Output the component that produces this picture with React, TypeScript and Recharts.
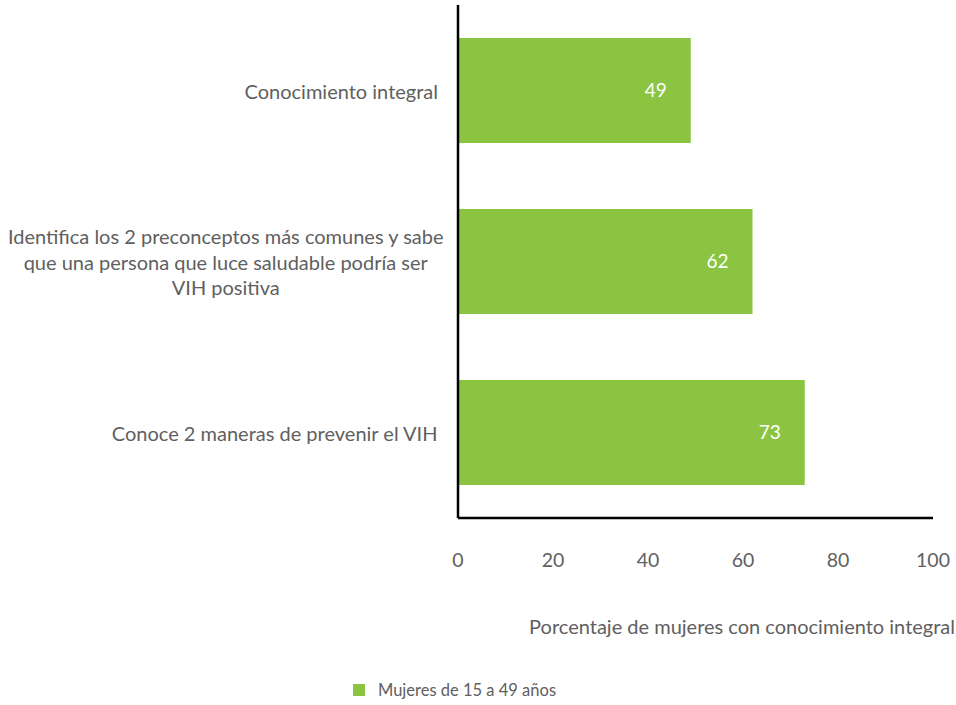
import { BarChart, Bar, XAxis, YAxis, LabelList, Legend } from 'recharts'

const categories = [
  'Conocimiento integral',
  'Identifica los 2 preconceptos más comunes y sabe que una persona que luce saludable podría ser VIH positiva',
  'Conoce 2 maneras de prevenir el VIH',
]
const categoryLines = [
  ['Conocimiento integral'],
  ['Identifica los 2 preconceptos más comunes y sabe', 'que una persona que luce saludable podría ser', 'VIH positiva'],
  ['Conoce 2 maneras de prevenir el VIH'],
]
const values = [49, 62, 73]
const xTicks = [0, 20, 40, 60, 80, 100]
const seriesName = 'Mujeres de 15 a 49 años'
const axisTitle = 'Porcentaje de mujeres con conocimiento integral'

const GREEN = '#8AC440'
const TEXT = '#606060'
const FONT = 'Lato, "Open Sans", sans-serif'

const data = categories.map((c, i) => ({ name: c, value: values[i] }))

let ctx: CanvasRenderingContext2D | null = null
function measure(text: string, size: number) {
  if (!ctx) ctx = document.createElement('canvas').getContext('2d')
  if (!ctx) return text.length * size * 0.5
  ctx.font = `${size}px Lato`
  return ctx.measureText(text).width
}

function CategoryTick(props: any) {
  const { x, y, payload } = props
  const idx = categories.indexOf(payload.value)
  const lines = categoryLines[idx] || [payload.value]
  const size = 20
  const blockW = Math.max(...lines.map((l) => measure(l, size)))
  const right = lines.length > 1 ? x - 6 : x - 12
  const cx = Math.max(right - blockW / 2, blockW / 2 + 2)
  const lh = 25.5
  return (
    <g>
      {lines.map((l, i) => (
        <text
          key={i}
          x={cx}
          y={y + (i - (lines.length - 1) / 2) * lh}
          textAnchor="middle"
          dominantBaseline="central"
          fill={TEXT}
          fontSize={size}
          fontFamily={FONT}
        >
          {l}
        </text>
      ))}
    </g>
  )
}

function ValueTick(props: any) {
  const { x, y, payload } = props
  return (
    <text x={x} y={y + 33} textAnchor="middle" dominantBaseline="central" fill={TEXT} fontSize={19.5} fontFamily={FONT}>
      {payload.value}
    </text>
  )
}

function AxisTitle(props: any) {
  const { viewBox } = props
  return (
    <text
      x={viewBox.x + viewBox.width + 22}
      y={viewBox.y + 108}
      textAnchor="end"
      dominantBaseline="central"
      fill={TEXT}
      fontSize={20}
      fontFamily={FONT}
    >
      {axisTitle}
    </text>
  )
}

function LegendBox() {
  return (
    <div style={{ display: 'flex', alignItems: 'center', fontFamily: FONT, fontSize: 16.5, color: TEXT }}>
      <span style={{ width: 12, height: 12, background: GREEN, display: 'inline-block', marginRight: 13 }} />
      {seriesName}
    </div>
  )
}

export default function App() {
  return (
    <div style={{ position: 'absolute', left: 0, top: 0, background: '#fff' }}>
      <BarChart
        width={956}
        height={705}
        data={data}
        layout="vertical"
        margin={{ top: 5, right: 23, bottom: 127, left: 0 }}
        barCategoryGap={33}
      >
        <XAxis
          type="number"
          domain={[0, 100]}
          ticks={xTicks}
          tickLine={false}
          axisLine={{ stroke: '#000', strokeWidth: 2.5 }}
          tick={<ValueTick />}
          height={40}
          interval={0}
          label={<AxisTitle />}
        />
        <YAxis
          type="category"
          dataKey="name"
          width={458}
          tickLine={false}
          axisLine={{ stroke: '#000', strokeWidth: 2.5 }}
          tick={<CategoryTick />}
          interval={0}
        />
        <Legend
          content={<LegendBox />}
          wrapperStyle={{ position: 'absolute', left: 353, top: 680, width: 300 }}
        />
        <Bar dataKey="value" name={seriesName} fill={GREEN} isAnimationActive={false}>
          <LabelList
            dataKey="value"
            position="insideRight"
            offset={24}
            fill="#fff"
            fontSize={19}
            fontFamily={FONT}
          />
        </Bar>
      </BarChart>
    </div>
  )
}
